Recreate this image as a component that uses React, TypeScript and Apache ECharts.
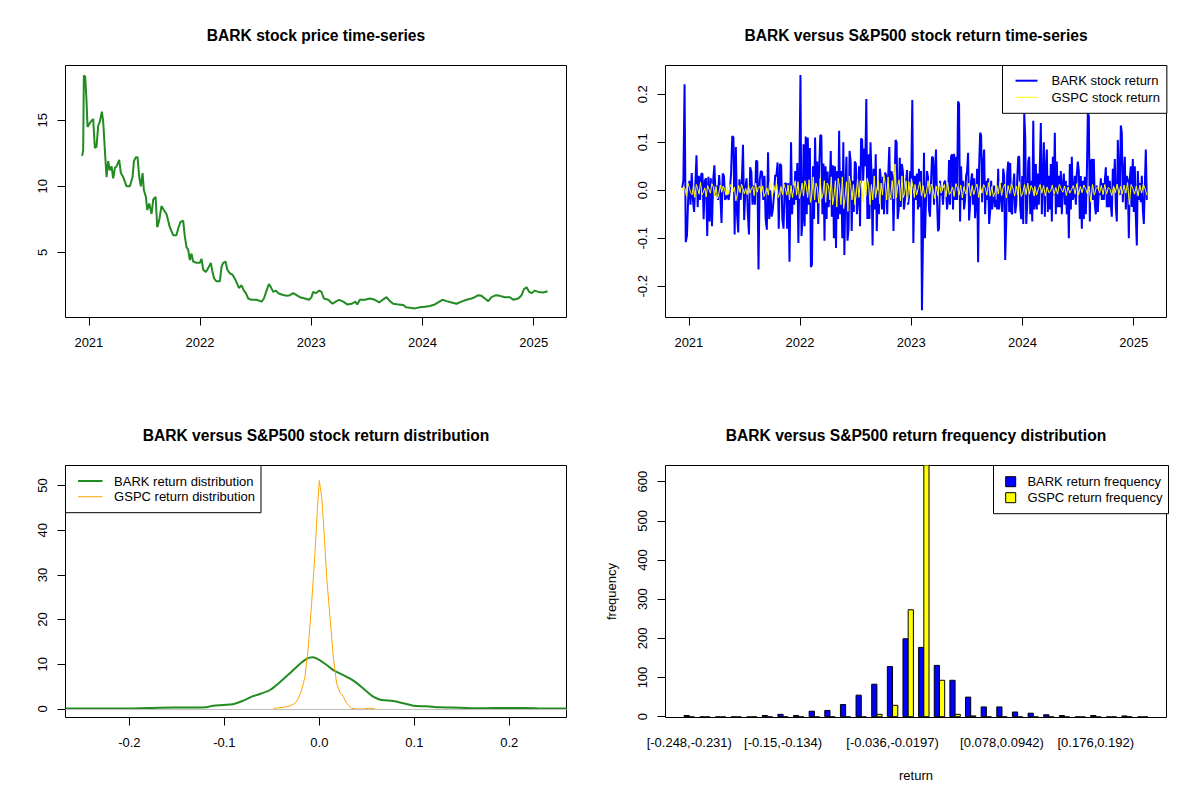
import React, { useEffect, useRef } from "react";
import * as echarts from "echarts";

const FONT = "'Liberation Sans', Arial, Helvetica, sans-serif";

// ---------- Panel 1: BARK price ----------
const priceYears = [
  2020.940, 2020.949, 2020.955, 2020.967, 2020.979, 2020.988, 2021.009, 2021.039, 2021.054, 2021.069,
  2021.084, 2021.099, 2021.117, 2021.129, 2021.144, 2021.159, 2021.174, 2021.189, 2021.204, 2021.219,
  2021.234, 2021.249, 2021.273, 2021.288, 2021.309, 2021.339, 2021.369, 2021.393, 2021.405, 2021.423,
  2021.438, 2021.453, 2021.468, 2021.483, 2021.495, 2021.513, 2021.525, 2021.543, 2021.564, 2021.579,
  2021.600, 2021.615, 2021.632, 2021.653, 2021.674, 2021.698, 2021.728, 2021.758, 2021.788, 2021.803,
  2021.824, 2021.848, 2021.863, 2021.878, 2021.893, 2021.908, 2021.923, 2021.938, 2021.968, 2021.998,
  2022.013, 2022.028, 2022.052, 2022.073, 2022.097, 2022.112, 2022.127, 2022.148, 2022.178, 2022.193,
  2022.208, 2022.229, 2022.244, 2022.268, 2022.292, 2022.313, 2022.334, 2022.349, 2022.373, 2022.394,
  2022.412, 2022.433, 2022.463, 2022.508, 2022.553, 2022.574, 2022.598, 2022.619, 2022.634, 2022.658,
  2022.682, 2022.703, 2022.733, 2022.778, 2022.808, 2022.838, 2022.868, 2022.898, 2022.942, 2022.981,
  2023.002, 2023.017, 2023.041, 2023.071, 2023.092, 2023.113, 2023.152, 2023.191, 2023.227, 2023.251,
  2023.287, 2023.323, 2023.362, 2023.398, 2023.413, 2023.437, 2023.482, 2023.527, 2023.572, 2023.611,
  2023.641, 2023.677, 2023.707, 2023.737, 2023.782, 2023.827, 2023.851, 2023.887, 2023.932, 2023.977,
  2024.022, 2024.067, 2024.111, 2024.141, 2024.180, 2024.216, 2024.261, 2024.306, 2024.351, 2024.396,
  2024.441, 2024.471, 2024.501, 2024.531, 2024.561, 2024.591, 2024.621, 2024.660, 2024.696, 2024.741,
  2024.786, 2024.816, 2024.861, 2024.891, 2024.912, 2024.936, 2024.960, 2024.981, 2025.011, 2025.041,
  2025.086, 2025.125,
];
const prices = [
  12.3, 12.75, 18.4, 18.3, 16.5, 14.5, 14.8, 15.1, 12.9, 13.0,
  14.6, 14.9, 15.65, 14.9, 12.75, 10.7, 11.9, 11.2, 11.5, 10.6,
  11.4, 11.5, 12.0, 11.0, 10.7, 10.0, 10.0, 10.7, 11.9, 12.2,
  12.2, 10.7, 10.0, 11.0, 9.7, 9.2, 8.2, 8.7, 7.9, 9.0,
  9.2, 6.9, 7.4, 8.5, 8.2, 7.9, 6.9, 6.3, 6.3, 6.8,
  7.3, 7.4, 6.2, 5.4, 5.2, 4.4, 4.9, 4.3, 4.2, 4.2,
  4.5, 3.7, 3.5, 3.8, 4.2, 3.5, 3.0, 2.8, 2.8, 3.9,
  4.2, 4.3, 3.7, 3.4, 3.3, 3.0, 2.6, 2.3, 2.5, 2.1,
  1.9, 1.5, 1.4, 1.4, 1.26, 1.5, 2.1, 2.6, 2.4, 2.0,
  2.1, 1.9, 1.8, 1.7, 1.75, 1.9, 1.75, 1.6, 1.5, 1.4,
  1.6, 2.0, 1.9, 2.1, 2.0, 1.5, 1.4, 1.1, 1.3, 1.4,
  1.26, 1.05, 1.1, 1.26, 1.05, 1.4, 1.4, 1.5, 1.4, 1.2,
  1.4, 1.6, 1.3, 1.1, 1.05, 1.0, 0.83, 0.8, 0.75, 0.83,
  0.88, 0.93, 1.05, 1.2, 1.4, 1.3, 1.2, 1.1, 1.26, 1.4,
  1.5, 1.6, 1.75, 1.7, 1.5, 1.3, 1.6, 1.75, 1.7, 1.6,
  1.6, 1.4, 1.5, 1.75, 2.2, 2.35, 2.0, 1.9, 2.1, 2.0,
  1.95, 2.05,
];

// ---------- Panel 2: daily returns, read in four time segments ----------
const retSegStart = [2020.94, 2021.919, 2023.033, 2024.111];
const retSegEnd = [2021.905, 2023.028, 2024.106, 2025.118];

const barkRetA = [
  0.005, 0.02, 0.221, -0.108, -0.095, -0.02, 0.02, -0.03, 0.036, -0.02, -0.045, 0.01, 0.073, -0.035, 0.03,
  -0.02, 0.034, 0.035, -0.06, 0.02, 0.025, -0.095, 0.028, -0.065, 0.025, -0.075, 0.02, 0.052, -0.01, 0.01,
  -0.02, 0.032, -0.01, -0.068, 0.035, 0.03, -0.02, -0.015, -0.01, -0.02, 0.0, 0.035, 0.113, 0.11, -0.092,
  0.09, -0.05, -0.088, 0.023, -0.02, 0.015, 0.095, -0.062, 0.005, 0.025, -0.045, -0.092, 0.048, 0.038, -0.03,
  0.01, -0.03, 0.062, 0.06, -0.165, 0.02, 0.04, 0.038, -0.02, 0.03, -0.06, -0.082, 0.079, -0.06, 0.0,
  -0.055, -0.04, -0.01, 0.032, 0.03, 0.058, -0.08, 0.055, 0.052, -0.06, -0.08, 0.013, 0.015, -0.08, 0.015,
  -0.149,
];
const barkRetB = [
  0.1, -0.05, 0.01, -0.03, 0.04, -0.02, 0.057, -0.11, 0.036, 0.24, -0.095, -0.06, 0.096, -0.075, 0.112,
  -0.05, 0.11, -0.03, 0.088, -0.16, -0.155, 0.05, -0.06, 0.11, -0.025, 0.06, -0.07, 0.05, 0.115, 0.114,
  -0.05, 0.056, -0.105, 0.05, -0.06, 0.039, -0.035, 0.009, 0.082, -0.055, 0.052, -0.1, 0.05, -0.12, 0.04,
  -0.06, 0.124, -0.05, 0.04, -0.1, 0.1, -0.135, 0.0, 0.07, -0.105, -0.08, 0.082, 0.06, -0.085, 0.02,
  -0.045, 0.06, 0.055, -0.05, -0.02, 0.05, -0.075, 0.108, 0.105, 0.02, 0.087, 0.05, 0.19, -0.06, 0.075,
  -0.06, 0.1, 0.03, -0.115, 0.045, -0.04, 0.075, -0.085, 0.0, -0.05, 0.045, 0.02, -0.04, 0.028, -0.05,
  0.037, 0.03, -0.05, 0.033, 0.09, -0.02, 0.04, 0.03, -0.085, 0.01, 0.105, 0.1, -0.06, -0.04, 0.068,
  -0.035, 0.055, 0.04, -0.04, -0.02, 0.018, 0.042, -0.03, -0.01, 0.04, 0.025, 0.188, -0.11, 0.02,
];
const barkRetC = [
  0.03, -0.02, 0.035, -0.04, 0.045, -0.035, 0.04, -0.25, -0.1, 0.078, -0.1, -0.02, 0.04, 0.028, -0.04,
  -0.055, 0.015, 0.07, 0.068, -0.03, 0.042, 0.085, -0.02, -0.085, -0.08, 0.02, -0.01, 0.0, -0.03, 0.015,
  0.02, 0.0, -0.04, -0.02, 0.063, -0.03, 0.07, 0.075, -0.04, 0.076, -0.02, 0.07, -0.02, 0.185, 0.18,
  -0.065, 0.05, -0.02, 0.02, -0.04, -0.02, 0.03, 0.04, 0.078, -0.063, -0.03, 0.02, 0.035, -0.03, 0.025,
  -0.058, -0.02, 0.045, -0.15, 0.05, 0.12, 0.115, -0.025, 0.052, 0.085, -0.05, 0.02, -0.02, 0.025, -0.07,
  -0.045, 0.02, -0.04, -0.02, 0.01, -0.035, -0.02, -0.04, 0.045, -0.04, -0.01, 0.015, -0.045, 0.045, 0.03,
  -0.145, -0.07, 0.035, 0.06, -0.045, 0.057, -0.045, -0.05, 0.01, 0.035, -0.048, -0.03, 0.023, 0.07, 0.07,
  -0.035, -0.06, 0.03, -0.07, 0.16, 0.11, -0.07, -0.03, 0.06, 0.07, -0.05, 0.02, -0.065, 0.145, -0.04,
];
const barkRetD = [
  -0.03, 0.055, -0.04, 0.035, -0.03, 0.05, 0.14, -0.05, 0.02, 0.1, -0.055, 0.045, 0.085, -0.045, 0.03,
  -0.04, 0.055, -0.065, 0.07, -0.01, 0.12, -0.05, 0.06, -0.035, 0.03, -0.035, 0.04, -0.05, 0.012, 0.035,
  -0.03, 0.02, -0.05, 0.01, -0.1, 0.055, -0.04, 0.07, -0.02, -0.01, 0.03, -0.03, 0.035, 0.06, 0.04,
  -0.06, 0.03, -0.08, 0.02, -0.06, 0.028, -0.05, 0.03, 0.16, 0.155, -0.065, 0.06, 0.065, -0.02, 0.065,
  -0.03, -0.05, 0.01, -0.045, 0.0, -0.01, 0.025, -0.02, 0.015, -0.02, 0.02, 0.048, -0.035, 0.03, -0.035,
  0.02, -0.03, -0.055, 0.045, 0.005, 0.065, -0.035, -0.065, 0.105, 0.03, -0.01, 0.135, 0.12, -0.025, 0.032,
  0.07, -0.04, 0.03, 0.02, -0.1, 0.025, 0.05, -0.035, 0.065, -0.045, 0.05, -0.055, -0.115, 0.04, -0.02,
  0.015, -0.025, 0.03, -0.04, -0.07, 0.01, 0.085, -0.02,
];

const gspcRetA = [
  0.0, 0.008, 0.004, -0.012, 0.015, 0.006, -0.005, -0.009, 0.01, -0.015, 0.012, 0.003, -0.008, 0.017, -0.01,
  -0.004, 0.005, -0.014, 0.01, 0.002, -0.006, 0.014, 0.007, -0.012, 0.008, -0.018, -0.006, 0.011, -0.004, 0.009,
  0.003, -0.01, 0.006, -0.008, 0.012, 0.005, -0.003, 0.007, -0.022, -0.008, 0.01, -0.005, 0.013, 0.004, -0.007,
  0.004, -0.009, 0.011, -0.006, 0.002, 0.008, -0.011, 0.015, -0.004, 0.006, 0.009, -0.008, 0.009, -0.013, -0.005,
  0.005, -0.01, 0.017, 0.006, -0.012, 0.01, -0.006, 0.012, -0.015, -0.007, 0.008, -0.009, 0.013, 0.004, -0.01,
  0.011, -0.02,
];
const gspcRetB = [
  0.01, -0.015, 0.004, 0.02, -0.01, 0.018, -0.017, -0.006, 0.015, -0.012, 0.02, 0.008, -0.015, 0.022, -0.025,
  -0.01, 0.028, -0.02, 0.015, 0.005, -0.027, 0.025, -0.018, -0.008, 0.02, -0.025, 0.015, 0.01, -0.02, 0.028,
  -0.03, -0.012, 0.02, -0.035, 0.025, 0.006, -0.03, 0.028, -0.038, -0.015, 0.018, -0.044, 0.03, 0.012, -0.02,
  0.012, -0.03, -0.01, 0.024, -0.015, 0.02, 0.008, -0.025, 0.018, -0.012, 0.025, 0.01, -0.03, 0.012, -0.02,
  0.03, -0.016, 0.004, 0.02, -0.028, 0.015, -0.01, 0.032, 0.012, -0.02, 0.028, -0.025, -0.008, 0.02, -0.018,
  0.055, -0.015, 0.01, 0.022, -0.022, 0.03, -0.015, -0.006, 0.02, -0.025, 0.018, -0.01, 0.022, 0.006, -0.015,
];
const gspcRetC = [
  0.012, -0.01, 0.004, 0.018, -0.012, 0.01, -0.015, -0.005, 0.02, -0.008, 0.013, 0.004, -0.017, 0.009, -0.011,
  0.015, -0.006, 0.003, 0.012, -0.014, 0.017, -0.009, -0.003, 0.007, -0.013, 0.014, 0.005, -0.01, 0.011, -0.016,
  0.008, -0.007, 0.002, 0.015, -0.012, 0.01, -0.009, 0.004, 0.013, -0.015, 0.009, -0.006, 0.012, 0.005, -0.01,
  0.016, -0.012, 0.008, -0.014, -0.004, 0.011, -0.008, 0.019, -0.011, 0.006, 0.013, -0.016, 0.01, -0.007, 0.014,
  0.004, -0.012, 0.009, -0.01, 0.018, -0.013, -0.005, 0.012, -0.009, 0.015, -0.008, 0.01, 0.003, -0.012,
];
const gspcRetD = [
  0.008, -0.01, 0.003, 0.012, -0.006, 0.01, -0.012, 0.007, -0.005, -0.002, 0.011, -0.009, 0.006, -0.008, 0.012,
  0.004, -0.004, 0.009, -0.011, 0.007, -0.006, 0.002, 0.01, -0.008, 0.014, -0.01, 0.008, -0.005, 0.011, 0.003,
  -0.007, 0.009, -0.024, 0.012, -0.01, 0.004, 0.007, -0.006, 0.01, -0.009, 0.012, -0.008, 0.006, 0.002, -0.011,
  0.009, -0.005, 0.013, -0.009, 0.008, -0.007, 0.011, -0.006, 0.016, -0.03, 0.012, 0.004, -0.008, 0.009, -0.012,
  0.011, -0.006, 0.013, 0.003, -0.01,
];

// ---------- Panel 3: kernel densities ----------
const barkDensX = [
  -0.267, -0.2, -0.168, -0.14, -0.119, -0.112, -0.101, -0.091, -0.08, -0.071, -0.0625, -0.052, -0.041, -0.031,
  -0.022, -0.0133, -0.007, -0.001, 0.0077, 0.0147, 0.0253, 0.0358, 0.0463, 0.0568, 0.0656, 0.078, 0.0884,
  0.099, 0.113, 0.127, 0.148, 0.166, 0.183, 0.197, 0.218, 0.229, 0.2602,
];
const barkDensY = [
  0.12, 0.12, 0.3, 0.35, 0.4, 0.75, 0.9, 1.05, 1.86, 2.76, 3.36, 4.25, 6.1, 8.0,
  9.8, 11.2, 11.55, 11.1, 9.84, 8.7, 7.6, 6.34, 4.6, 2.76, 2.0, 1.8, 1.27,
  0.75, 0.6, 0.37, 0.3, 0.15, 0.22, 0.22, 0.22, 0.15, 0.1,
];
const gspcDensX = [
  -0.0484, -0.038, -0.031, -0.0256, -0.022, -0.0186, -0.0151, -0.0116, -0.0081, -0.0046, -0.0021, 0.0,
  0.0025, 0.0049, 0.0077, 0.0112, 0.0147, 0.0182, 0.0218, 0.0253, 0.0288, 0.034, 0.039, 0.047, 0.0516,
  0.055, 0.0586,
];
const gspcDensY = [
  0.15, 0.37, 0.67, 1.27, 2.4, 4.25, 7.2, 13.9, 23.6, 34.8, 44.5, 51.1,
  47.5, 40.0, 29.6, 20.7, 11.7, 5.74, 3.7, 2.76, 1.27, 0.15, 0.0, 0.0, 0.15,
  0.15, 0.0,
];

// ---------- Panel 4: return frequency by bin ----------
const binLabels = [
  "[-0.248,-0.231)", "[-0.231,-0.215)", "[-0.215,-0.199)", "[-0.199,-0.183)", "[-0.183,-0.166)",
  "[-0.166,-0.15)", "[-0.15,-0.134)", "[-0.134,-0.117)", "[-0.117,-0.101)", "[-0.101,-0.0849)",
  "[-0.0849,-0.0686)", "[-0.0686,-0.0523)", "[-0.0523,-0.036)", "[-0.036,-0.0197)", "[-0.0197,-0.00342)",
  "[-0.00342,0.0129)", "[0.0129,0.0292)", "[0.0292,0.0455)", "[0.0455,0.0618)", "[0.0618,0.078)",
  "[0.078,0.0942)", "[0.0942,0.111)", "[0.111,0.127)", "[0.127,0.143)", "[0.143,0.16)",
  "[0.16,0.176)", "[0.176,0.192)", "[0.192,0.208)", "[0.208,0.225)", "[0.225,0.241]",
];
const barkFreq = [3, 0, 0, 0, 0, 3, 6, 3, 14, 16, 31, 55, 83, 128, 199, 177, 131, 93, 50, 25, 25, 12, 9, 5, 3, 0, 3, 0, 2, 1];
const gspcFreq = [0, 0, 0, 0, 0, 0, 0, 0, 0, 0, 0, 1, 6, 29, 273, 668, 93, 6, 2, 0, 0, 0, 0, 0, 0, 0, 0, 0, 0, 0];
const shownBins = [0, 6, 13, 20, 26];

// ---------- tick values ----------
const yearTicks = [2021, 2022, 2023, 2024, 2025];
const priceTicks = [5, 10, 15];
const returnTicks = [-0.2, -0.1, 0, 0.1, 0.2];
const densXTicks = [-0.2, -0.1, 0, 0.1, 0.2];
const densYTicks = [0, 10, 20, 30, 40, 50];
const freqTicks = [0, 100, 200, 300, 400, 500, 600];

// ---------- helpers ----------
function spreadSegments(segs: number[][]): number[][] {
  const out: number[][] = [];
  segs.forEach((vals, s) => {
    const a = retSegStart[s];
    const b = retSegEnd[s];
    vals.forEach((v, i) => {
      out.push([a + ((b - a) * i) / (vals.length - 1), v]);
    });
  });
  return out;
}
function zip(xs: number[], ys: number[]): number[][] {
  const n = Math.min(xs.length, ys.length);
  const out: number[][] = [];
  for (let i = 0; i < n; i++) out.push([xs[i], ys[i]]);
  return out;
}

const labelText = { fontFamily: FONT, fontSize: 13, color: "#000", lineHeight: 13 };

function xAxis(gridIndex: number, min: number, max: number, ticks: number[] | null, fmt: (v: number) => string, extra: any = {}) {
  return {
    type: "value",
    gridIndex,
    min,
    max,
    axisLine: { show: false, onZero: false },
    axisTick: ticks
      ? { show: true, length: 8, inside: false, lineStyle: { color: "#000", width: 1 }, customValues: ticks }
      : { show: false },
    axisLabel: { ...labelText, margin: 18, customValues: extra.labelValues || ticks, formatter: fmt },
    splitLine: { show: false },
    ...extra.axis,
  };
}
function yAxis(gridIndex: number, min: number, max: number, ticks: number[], fmt: (v: number) => string, extra: any = {}) {
  return {
    type: "value",
    gridIndex,
    min,
    max,
    axisLine: { show: false, onZero: false },
    axisTick: { show: true, length: 8, inside: false, lineStyle: { color: "#000", width: 1 }, customValues: ticks },
    axisLabel: { ...labelText, rotate: 90, margin: 17, customValues: ticks, formatter: fmt },
    splitLine: { show: false },
    ...extra,
  };
}

const makeBarRenderer = (offset: number, fill: string) => (params: any, api: any) => {
  const k = api.value(0) as number;
  const v = api.value(1) as number;
  const left = 3 * k + offset;
  const p0 = api.coord([left, v]);
  const p1 = api.coord([left + 1, 0]);
  const h = p1[1] - p0[1];
  if (h < 0.5) {
    return {
      type: "line",
      shape: { x1: p0[0], y1: p1[1], x2: p1[0], y2: p1[1] },
      style: { stroke: "#000", lineWidth: 1 },
    };
  }
  return {
    type: "rect",
    shape: { x: p0[0], y: p0[1], width: p1[0] - p0[0], height: h },
    style: { fill, stroke: "#000", lineWidth: 1 },
  };
};

const legendText = { fontFamily: FONT, fontSize: 13, color: "#000", lineHeight: 14 };

function buildOption(): any {
  const titleStyle = { fontFamily: FONT, fontSize: 15.6, fontWeight: "bold", color: "#000", lineHeight: 16 };
  const grid = (left: number, top: number) => ({
    left,
    top,
    width: 501,
    height: 252,
    show: true,
    borderColor: "#000",
    borderWidth: 1,
    backgroundColor: "transparent",
    containLabel: false,
  });
  const intFmt = (v: number) => String(Math.round(v));
  const oneDec = (v: number) => (Math.abs(v) < 1e-9 ? "0.0" : v.toFixed(1));

  return {
    animation: false,
    backgroundColor: "#fff",
    title: [
      { text: "BARK stock price time-series", left: 316, top: 27, textAlign: "center", padding: 0, textStyle: titleStyle },
      { text: "BARK versus S&P500 stock return time-series", left: 916, top: 27, textAlign: "center", padding: 0, textStyle: titleStyle },
      { text: "BARK versus S&P500 stock return distribution", left: 316, top: 427, textAlign: "center", padding: 0, textStyle: titleStyle },
      { text: "BARK versus S&P500 return frequency distribution", left: 916, top: 427, textAlign: "center", padding: 0, textStyle: titleStyle },
    ],
    grid: [grid(65.5, 65.5), grid(665.5, 65.5), grid(65.5, 465.5), grid(665.5, 465.5)],
    xAxis: [
      xAxis(0, 2020.79, 2025.295, yearTicks, intFmt),
      xAxis(1, 2020.79, 2025.295, yearTicks, intFmt),
      xAxis(2, -0.2672, 0.2602, densXTicks, oneDec),
      xAxis(3, -2.56, 93.56, null, (v: number) => binLabels[Math.round((v - 2) / 3)] || "", {
        labelValues: shownBins.map((k) => 3 * k + 2),
        axis: {
          name: "return",
          nameLocation: "middle",
          nameGap: 51,
          nameTextStyle: { fontFamily: FONT, fontSize: 13, color: "#000", lineHeight: 14 },
        },
      }),
    ],
    yAxis: [
      yAxis(0, 0.06, 19.15, priceTicks, intFmt),
      yAxis(1, -0.265, 0.26, returnTicks, oneDec),
      yAxis(2, -1.9, 54.47, densYTicks, intFmt),
      yAxis(3, -2.04, 641.3, freqTicks, intFmt, {
        name: "frequency",
        nameLocation: "middle",
        nameGap: 47,
        nameTextStyle: { fontFamily: FONT, fontSize: 13, color: "#000", lineHeight: 14 },
      }),
    ],
    legend: [
      {
        orient: "vertical",
        left: 1002.5,
        top: 65.5,
        selectedMode: false,
        data: [
          { name: "BARK stock return", lineStyle: { width: 2, color: "#0000FF" } },
          { name: "GSPC stock return", lineStyle: { width: 1, color: "#FFFF00" } },
        ],
        itemWidth: 22,
        itemHeight: 14,
        itemGap: 2.6,
        padding: [8.2, 7, 9, 12],
        borderColor: "#000",
        borderWidth: 1,
        borderRadius: 0,
        backgroundColor: "#fff",
        itemStyle: { opacity: 0 },
        textStyle: { ...legendText, padding: [0, 0, 0, 9] },
      },
      {
        orient: "vertical",
        left: 65.5,
        top: 465.5,
        selectedMode: false,
        data: [
          { name: "BARK return distribution", lineStyle: { width: 2, color: "#228B22" } },
          { name: "GSPC return distribution", lineStyle: { width: 1, color: "#FFA500" } },
        ],
        itemWidth: 24.4,
        itemHeight: 14,
        itemGap: 1.7,
        padding: [8.5, 6, 9, 11.6],
        borderColor: "#000",
        borderWidth: 1,
        borderRadius: 0,
        backgroundColor: "#fff",
        itemStyle: { opacity: 0 },
        textStyle: { ...legendText, padding: [0, 0, 0, 6.6] },
      },
      {
        orient: "vertical",
        left: 993.5,
        top: 465.5,
        selectedMode: false,
        data: [
          { name: "BARK return frequency", icon: "rect", itemStyle: { color: "#0000FF", borderColor: "#000", borderWidth: 1 } },
          { name: "GSPC return frequency", icon: "rect", itemStyle: { color: "#FFFF00", borderColor: "#000", borderWidth: 1 } },
        ],
        itemWidth: 10,
        itemHeight: 10,
        itemGap: 2,
        padding: [9.2, 6, 9, 11.7],
        borderColor: "#000",
        borderWidth: 1,
        borderRadius: 0,
        backgroundColor: "#fff",
        textStyle: { ...legendText, padding: [0, 0, 0, 6.7] },
      },
    ],
    series: [
      {
        name: "BARK price",
        type: "line",
        xAxisIndex: 0,
        yAxisIndex: 0,
        data: zip(priceYears, prices),
        symbol: "none",
        showSymbol: false,
        color: "#228B22",
        lineStyle: { color: "#228B22", width: 2 },
        silent: true,
      },
      {
        name: "BARK stock return",
        type: "line",
        xAxisIndex: 1,
        yAxisIndex: 1,
        data: spreadSegments([barkRetA, barkRetB, barkRetC, barkRetD]),
        symbol: "none",
        showSymbol: false,
        color: "#0000FF",
        lineStyle: { color: "#0000FF", width: 2 },
        silent: true,
        z: 2,
      },
      {
        name: "GSPC stock return",
        type: "line",
        xAxisIndex: 1,
        yAxisIndex: 1,
        data: spreadSegments([gspcRetA, gspcRetB, gspcRetC, gspcRetD]),
        symbol: "none",
        showSymbol: false,
        color: "#FFFF00",
        lineStyle: { color: "#FFFF00", width: 1 },
        silent: true,
        z: 3,
      },
      {
        name: "zero",
        type: "line",
        xAxisIndex: 2,
        yAxisIndex: 2,
        data: [],
        silent: true,
        z: 1,
        markLine: {
          silent: true,
          symbol: ["none", "none"],
          label: { show: false },
          lineStyle: { color: "#BEBEBE", type: "solid", width: 1 },
          data: [{ yAxis: 0 }],
        },
      },
      {
        name: "BARK return distribution",
        type: "line",
        xAxisIndex: 2,
        yAxisIndex: 2,
        data: zip(barkDensX, barkDensY),
        symbol: "none",
        showSymbol: false,
        smooth: 0.3,
        color: "#228B22",
        lineStyle: { color: "#228B22", width: 2 },
        silent: true,
        z: 3,
      },
      {
        name: "GSPC return distribution",
        type: "line",
        xAxisIndex: 2,
        yAxisIndex: 2,
        data: zip(gspcDensX, gspcDensY),
        symbol: "none",
        showSymbol: false,
        color: "#FFA500",
        lineStyle: { color: "#FFA500", width: 1 },
        silent: true,
        z: 4,
      },
      {
        name: "BARK return frequency",
        type: "custom",
        xAxisIndex: 3,
        yAxisIndex: 3,
        clip: true,
        data: barkFreq.map((v, k) => [k, v]),
        itemStyle: { color: "#0000FF", borderColor: "#000", borderWidth: 1 },
        renderItem: makeBarRenderer(1, "#0000FF"),
        silent: true,
      },
      {
        name: "GSPC return frequency",
        type: "custom",
        xAxisIndex: 3,
        yAxisIndex: 3,
        clip: true,
        data: gspcFreq.map((v, k) => [k, v]),
        itemStyle: { color: "#FFFF00", borderColor: "#000", borderWidth: 1 },
        renderItem: makeBarRenderer(2, "#FFFF00"),
        silent: true,
      },
    ],
  };
}

export default function App() {
  const ref = useRef<HTMLDivElement | null>(null);
  useEffect(() => {
    if (!ref.current) return;
    const chart = echarts.init(ref.current, undefined, { renderer: "svg", width: 1200, height: 800 });
    chart.setOption(buildOption());
    return () => {
      chart.dispose();
    };
  }, []);
  return (
    <div
      ref={ref}
      style={{ position: "fixed", left: 0, top: 0, width: 1200, height: 800, background: "#fff" }}
    />
  );
}
